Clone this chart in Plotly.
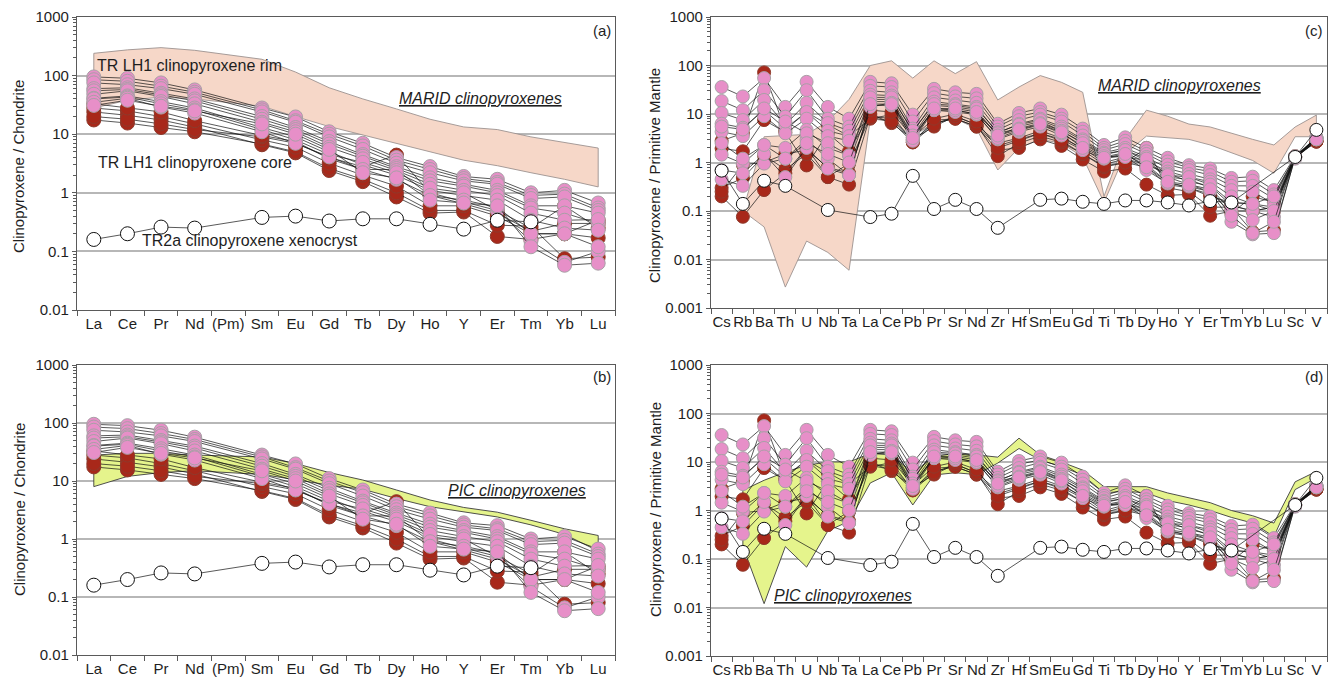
import plotly.graph_objects as go

W, H = 1340, 683
FONT = "Liberation Sans, Arial, sans-serif"

# ---------------------------------------------------------------- categories
REE = ["La", "Ce", "Pr", "Nd", "(Pm)", "Sm", "Eu", "Gd", "Tb", "Dy", "Ho",
       "Y", "Er", "Tm", "Yb", "Lu"]
SPIDER = ["Cs", "Rb", "Ba", "Th", "U", "Nb", "Ta", "La", "Ce", "Pb", "Pr",
          "Sr", "Nd", "Zr", "Hf", "Sm", "Eu", "Gd", "Ti", "Tb", "Dy", "Ho",
          "Y", "Er", "Tm", "Yb", "Lu", "Sc", "V"]

# ------------------------------------------- chondrite-normalised REE data
# order follows REE; (Pm) is not analysed
REE_RIM = [
    [95, 90, 75, 57, None, 28, 19.7, 11, 7.0, 4.0, 2.8, 1.9, 1.7, 1.0, 1.1, 0.67],
    [85, 80, 66, 52, None, 26, 17, 10, 6.3, 3.6, 2.5, 1.75, 1.5, 0.9, 0.95, 0.55],
    [75, 70, 60, 48, None, 24, 16, 9.0, 5.5, 3.2, 2.2, 1.6, 1.4, 0.8, 0.85, 0.5],
    [60, 62, 50, 40, None, 20, 13, 7.5, 4.5, 2.8, 1.8, 1.4, 1.1, 0.6, 0.6, 0.45],
    [55, 58, 47, 37, None, 18, 12, 6.8, 4.2, 2.6, 1.6, 1.3, 1.0, 0.55, 0.45, 0.3],
    [48, 55, 44, 33, None, 16, 11, 6.0, 3.8, 2.4, 1.4, 1.1, 0.9, 0.45, 0.34, 0.35],
    [41, 45, 36, 28, None, 13, 9.0, 5.0, 3.0, 2.0, 1.1, 0.9, 0.75, 0.34, 0.25, 0.23],
    [40, 43, 33, 26, None, 12, 8.0, 4.5, 3.3, 2.2, 1.2, 1.0, 0.5, 0.15, 0.065, 0.1],
    [35, 41, 29, 23, None, 11, 7.0, 4.1, 2.5, 1.7, 0.9, 0.75, 0.57, 0.2, 0.2, 0.12],
    [31, 38, 30, 25, None, 15, 10, 5.5, 2.2, 1.8, 0.75, 0.67, 0.6, 0.12, 0.058, 0.063],
]
REE_CORE = [
    [24, 21, 17.5, 13.2, None, 6.6, 4.8, 2.4, 1.55, 0.85, 0.45, 0.47, 0.18, 0.16, 0.2, 0.17],
    [17.5, 15.5, 13, 11, None, 6.8, 5.0, 2.6, 1.7, 1.0, 0.5, 0.5, 0.28, 0.27, 0.075, 0.08],
    [28, 25, 20, 15, None, 8.0, 6.0, 3.2, 2.0, 1.3, 0.6, 0.6, 0.4, 0.2, 0.2, 0.34],
    [20, 18, 15, 12, None, 9.0, 7.0, 4.0, 2.8, 4.4, 1.0, 0.7, 0.5, 0.25, 0.6, 0.25],
    [33, 28, 24, 17, None, 9.5, 7.5, 3.8, 2.5, 2.5, 0.9, 0.65, 0.45, 0.22, 0.3, 0.3],
]
REE_XENO = [0.16, 0.20, 0.26, 0.25, None, 0.38, 0.40, 0.33, 0.36, 0.36, 0.29,
            0.24, 0.34, 0.32, None, None]

MARID_REE_UPPER = [240, 275, 300, 270, None, 190, 115, 62, 40, 27, 18, 13.3, 12, 9, 7.3, 5.8]
MARID_REE_LOWER = [28, 38, 43, 40, None, 30, 20, 13.5, 9.5, 7, 5, 3.6, 2.9, 2.2, 1.7, 1.26]
PIC_REE_UPPER = [28, 30, 30, 28, None, 26, 20, 14, 10.4, 7.0, 4.7, 3.5, 2.9, 2.1, 1.5, 1.15]
PIC_REE_LOWER = [8, 12, 14, 15, None, 13, 10.5, 8.5, 7.2, 5.0, 3.6, 2.9, 2.4, 1.75, 1.2, 0.62]

# ------------------------------------ primitive-mantle-normalised trace data
# order follows SPIDER
PM_RIM = [
    [36, 23, 55, 14, 46, 14, 8, 46, 43, 9.7, 33, 28, 26, 6.3, 10.5, 13, 9.7, 5, 2.3, 3.3, 2.0, 1.25, 0.88, 0.75, 0.48, 0.51, 0.27, 1.35, 3.3],
    [18.5, 12, 31, 8.8, 31, 8, 5.5, 38, 36, 7, 27, 23, 21, 5.5, 9, 11, 8, 4.3, 2.0, 2.8, 1.7, 1.05, 0.78, 0.65, 0.4, 0.42, 0.22, 1.3, 3.3],
    [10.5, 7.5, 19.5, 6, 17, 6.5, 4.5, 30, 28, 5, 22, 19, 17, 4.7, 7.5, 9.7, 7, 3.6, 1.8, 2.4, 1.5, 0.9, 0.7, 0.55, 0.33, 0.33, 0.18, 1.3, 3.2],
    [6.3, 5.2, 12, 5, 11, 4.5, 3.5, 25, 24, 4.2, 18, 16, 14, 4, 6.3, 8, 5.5, 3, 1.6, 2.0, 1.3, 0.75, 0.58, 0.45, 0.27, 0.25, 0.14, 1.25, 3.2],
    [4.3, 3.5, 9, 4, 8, 3.5, 2.8, 20, 20, 3.6, 15, 14, 12, 3.5, 5.5, 7, 4.5, 2.6, 1.45, 1.8, 1.1, 0.65, 0.5, 0.4, 0.2, 0.14, 0.12, 1.2, 3.0],
    [1.45, 0.95, 2.3, 2.0, 4.7, 2.0, 1.4, 18, 18, 3, 13, 12, 10, 3, 4.3, 5.5, 3.6, 1.8, 1.2, 1.4, 0.9, 0.59, 0.4, 0.33, 0.13, 0.1, 0.075, 1.3, 3.3],
    [0.45, 0.33, 0.95, 1.2, 3.0, 1.2, 0.55, 15, 15, 2.8, 12, 11, 9.7, 3.2, 4.6, 6, 4, 2.2, 1.3, 1.6, 1.0, 0.5, 0.45, 0.3, 0.1, 0.065, 0.1, 1.25, 3.1],
    [5.5, 4.8, 13, 7, 4, 2.5, 1.4, 22, 22, 4.5, 16, 15, 13, 4.2, 6, 7.5, 5, 2.8, 1.5, 1.8, 1.2, 0.55, 0.5, 0.35, 0.15, 0.14, 0.2, 1.3, 3.1],
    [0.7, 0.6, 1.5, 0.5, 2.0, 0.75, 0.55, 14, 17, 3.6, 12, 12, 10, 4, 5, 6.5, 4.5, 2.5, 1.35, 1.3, 0.7, 0.37, 0.32, 0.25, 0.06, 0.033, 0.035, 1.3, 3.2],
    [2.5, 1.2, 2.3, 1.2, 2.5, 1.5, 1.0, 16, 16, 3.2, 13, 13, 11, 3.6, 4.8, 6.2, 4.2, 2.0, 1.25, 1.5, 0.8, 0.4, 0.35, 0.28, 0.08, 0.035, 0.06, 1.3, 3.0],
]
PM_CORE = [
    [2.8, 4.0, 72, 4.7, 11, 6, 3.5, 8, 9.7, 2.6, 7.4, 8, 5.5, 1.8, 2, 3, 2.2, 1.15, 0.65, 0.75, 0.35, 0.21, 0.22, 0.08, 0.1, 0.1, 0.12, 1.3, 2.7],
    [1.95, 1.7, 7.5, 4.2, 0.87, 4, 1.7, 10, 6.5, 3, 5.5, 9, 6, 1.35, 2.5, 3.5, 2.6, 1.5, 0.8, 1.0, 2.0, 0.3, 0.25, 0.12, 0.12, 0.037, 0.04, 1.25, 2.7],
    [0.3, 0.48, 1.4, 0.72, 1.5, 0.5, 0.35, 9, 8, 2.8, 6.5, 8, 5.5, 2.2, 3, 4, 3, 1.8, 0.9, 1.2, 0.9, 0.4, 0.3, 0.2, 0.15, 0.14, 0.1, 1.3, 2.7],
    [0.2, 0.076, 0.27, 0.6, 2.0, 0.5, 0.96, 8.5, 7, 2.6, 6, 9, 6, 2.5, 3.2, 4.5, 3.2, 2, 1.0, 1.3, 1.1, 0.5, 0.35, 0.25, 0.09, 0.2, 0.15, 1.3, 2.8],
    [0.25, 0.9, 1.0, 1.5, 1.8, 0.8, 0.6, 12, 11, 3.3, 8, 10, 7, 2, 2.8, 4, 2.8, 1.5, 0.85, 1.0, 0.8, 0.35, 0.3, 0.22, 0.13, 0.1, 0.12, 1.35, 2.8],
]
PM_XENO = [0.68, 0.14, 0.42, 0.33, None, 0.105, None, 0.075, 0.088, 0.53, 0.11,
           0.17, 0.11, 0.045, None, 0.17, 0.18, 0.155, 0.14, 0.165, 0.165,
           0.15, 0.13, 0.16, 0.15, None, None, 1.3, 4.7]

MARID_PM_UPPER = [None, 0.1, 3.4, 3.6, 3.8, 7, 20, 100, 125, 55, 125, 68, 120,
                  19.5, 36, 62, 45, 28, 0.2, 3, 12, 9, 6.2, 5.4, 4, 3, 2.3, 5.4, 9.5]
MARID_PM_LOWER = [None, 0.1, 0.047, 0.0027, 0.024, 0.014, 0.006, 8, 7, 3.5, 6.5,
                  8, 5, 0.7, 2, 3, 2.5, 1.3, 0.15, 1.5, 3.5, 3.2, 3, 2.3, 1.6,
                  1.1, 0.6, 3.4, 3.4]
PIC_PM_UPPER = [None, 2.6, 4.2, 6.2, 8.6, 10, 10, 15, 14, 6, 13, 15, 14, 12.6,
                31, 14, 10, 6.8, 3.1, 3.1, 3.1, 2.3, 1.85, 1.45, 1.0, 0.78,
                0.55, 3.9, 6.4]
PIC_PM_LOWER = [None, 0.18, 0.012, 0.18, 0.068, 0.38, 0.6, 3.7, 6, 1.3, 5.4,
                6, 5.5, 9.5, 19, 11, 8, 5.4, 2.3, 2.5, 2.3, 1.6, 1.3, 1.0,
                0.72, 0.55, 0.29, 2.7, 4.7]

# ------------------------------------------------------------------ styling
PINK = "#E78FC8"
PINK_EDGE = "#A8A0A6"
RED = "#A8281A"
RED_EDGE = "#8E3A2C"
PEACH = "#F6D7C8"
PEACH_EDGE = "#9C9290"
LIME = "#E5F48C"
LIME_EDGE = "#3C3C3C"
AXIS = "#5A5A5A"
GRID = "#B7B7B7"
TXT = "#1E1E1E"


def px_x(p):
    return p / W


def px_y(p):
    return 1 - p / H


# panel boxes in pixels: (x0, x1, ytop, ybottom)
PANELS = {
    "a": (77, 615, 17, 310),
    "b": (77, 615, 365, 655),
    "c": (711, 1327, 17, 308),
    "d": (711, 1327, 365, 656),
}

fig = go.Figure()


def envelope(cats, upper, lower, fill, edge, xa, ya):
    up = [(c, v) for c, v in zip(cats, upper) if v is not None]
    lo = [(c, v) for c, v in zip(cats, lower) if v is not None]
    pts = up + lo[::-1] + [up[0]]
    fig.add_trace(go.Scatter(
        x=[p[0] for p in pts], y=[p[1] for p in pts], mode="lines",
        fill="toself", fillcolor=fill, line=dict(color=edge, width=0.9),
        xaxis=xa, yaxis=ya, hoverinfo="skip", showlegend=False))


def profile(cats, vals, fill, edge, size, xa, ya, ewidth=1):
    fig.add_trace(go.Scatter(
        x=cats, y=vals, mode="lines+markers", connectgaps=True,
        line=dict(color="#111111", width=0.7),
        marker=dict(size=size, color=fill, line=dict(color=edge, width=ewidth)),
        xaxis=xa, yaxis=ya, showlegend=False))


def panel(cats, env_u, env_l, env_fill, env_edge, rims, cores, xeno, xa, ya, size):
    envelope(cats, env_u, env_l, env_fill, env_edge, xa, ya)
    for row in cores:
        profile(cats, row, RED, RED_EDGE, size, xa, ya)
    for row in rims:
        profile(cats, row, PINK, PINK_EDGE, size, xa, ya)
    profile(cats, xeno, "#FFFFFF", "#111111", size, xa, ya, ewidth=1)


panel(REE, MARID_REE_UPPER, MARID_REE_LOWER, PEACH, PEACH_EDGE,
      REE_RIM, REE_CORE, REE_XENO, "x", "y", 14)
panel(REE, PIC_REE_UPPER, PIC_REE_LOWER, LIME, LIME_EDGE,
      REE_RIM, REE_CORE, REE_XENO, "x2", "y2", 14)
panel(SPIDER, MARID_PM_UPPER, MARID_PM_LOWER, PEACH, PEACH_EDGE,
      PM_RIM, PM_CORE, PM_XENO, "x3", "y3", 13)
panel(SPIDER, PIC_PM_UPPER, PIC_PM_LOWER, LIME, LIME_EDGE,
      PM_RIM, PM_CORE, PM_XENO, "x4", "y4", 13)


def xaxis_cfg(key, cats, anchor):
    x0, x1, _, _ = PANELS[key]
    return dict(
        domain=[px_x(x0), px_x(x1)], anchor=anchor, type="category",
        categoryorder="array", categoryarray=cats,
        range=[-0.5, len(cats) - 0.5], tickson="boundaries",
        ticks="outside", ticklen=5, tickcolor=AXIS, tickwidth=1,
        showline=True, linecolor=AXIS, linewidth=1.3, mirror=True,
        showgrid=False, zeroline=False, tickangle=0, automargin=False,
        tickfont=dict(family=FONT, size=15, color=TXT), fixedrange=True)


def yaxis_cfg(key, lo, anchor):
    _, _, yt, yb = PANELS[key]
    majors = [10.0 ** e for e in range(lo, 4)]
    labels = ["1000", "100", "10", "1", "0.1", "0.01", "0.001"][: len(majors)][::-1]
    minors = [m * 10.0 ** e for e in range(lo, 3) for m in range(2, 10)]
    return dict(
        domain=[px_y(yb), px_y(yt)], anchor=anchor, type="log",
        range=[lo, 3], tickmode="array", tickvals=majors, ticktext=labels,
        ticks="outside", ticklen=4, tickcolor=AXIS,
        showgrid=True, gridcolor=GRID, gridwidth=1.6,
        showline=True, linecolor=AXIS, linewidth=1.3, mirror=True,
        zeroline=False, automargin=False,
        minor=dict(tickmode="array", tickvals=minors, ticks="outside",
                   ticklen=2.5, tickcolor=AXIS, showgrid=False),
        tickfont=dict(family=FONT, size=15, color=TXT), fixedrange=True)


def note(text, px, py, size=16, xanchor="left", angle=0):
    return dict(text=text, x=px_x(px), y=px_y(py), xref="paper", yref="paper",
                xanchor=xanchor, yanchor="middle", showarrow=False,
                textangle=angle, font=dict(family=FONT, size=size, color=TXT))


def underlined(text):
    return f"<span style='text-decoration:underline'><i>{text}</i></span>"


annotations = [
    note("(a)", 613, 31, 15, "right"),
    note("(b)", 613, 376, 15, "right"),
    note("(c)", 1325, 31, 15, "right"),
    note("(d)", 1325, 376, 15, "right"),
    note("TR LH1 clinopyroxene rim", 95, 65),
    note("TR LH1 clinopyroxene core", 96, 162),
    note("TR2a clinopyroxene xenocryst", 140, 241),
    note(underlined("MARID clinopyroxenes"), 480, 98, 16, "center"),
    note(underlined("PIC clinopyroxenes"), 517, 490, 16, "center"),
    note(underlined("MARID clinopyroxenes"), 1179, 86, 16, "center"),
    note(underlined("PIC clinopyroxenes"), 843, 595, 16, "center"),
    note("Clinopyroxene / Chondrite", 19, 167, 15, "center", -90),
    note("Clinopyroxene / Chondrite", 19, 510, 15, "center", -90),
    note("Clinopyroxene / Primitive Mantle", 654, 176, 15, "center", -90),
    note("Clinopyroxene / Primitive Mantle", 655, 510, 15, "center", -90),
]

fig.update_layout(
    width=W, height=H, margin=dict(l=0, r=0, t=0, b=0),
    paper_bgcolor="white", plot_bgcolor="white", showlegend=False,
    font=dict(family=FONT, color=TXT),
    xaxis=xaxis_cfg("a", REE, "y"), yaxis=yaxis_cfg("a", -2, "x"),
    xaxis2=xaxis_cfg("b", REE, "y2"), yaxis2=yaxis_cfg("b", -2, "x2"),
    xaxis3=xaxis_cfg("c", SPIDER, "y3"), yaxis3=yaxis_cfg("c", -3, "x3"),
    xaxis4=xaxis_cfg("d", SPIDER, "y4"), yaxis4=yaxis_cfg("d", -3, "x4"),
    annotations=annotations,
)

fig.write_html("out.html")
